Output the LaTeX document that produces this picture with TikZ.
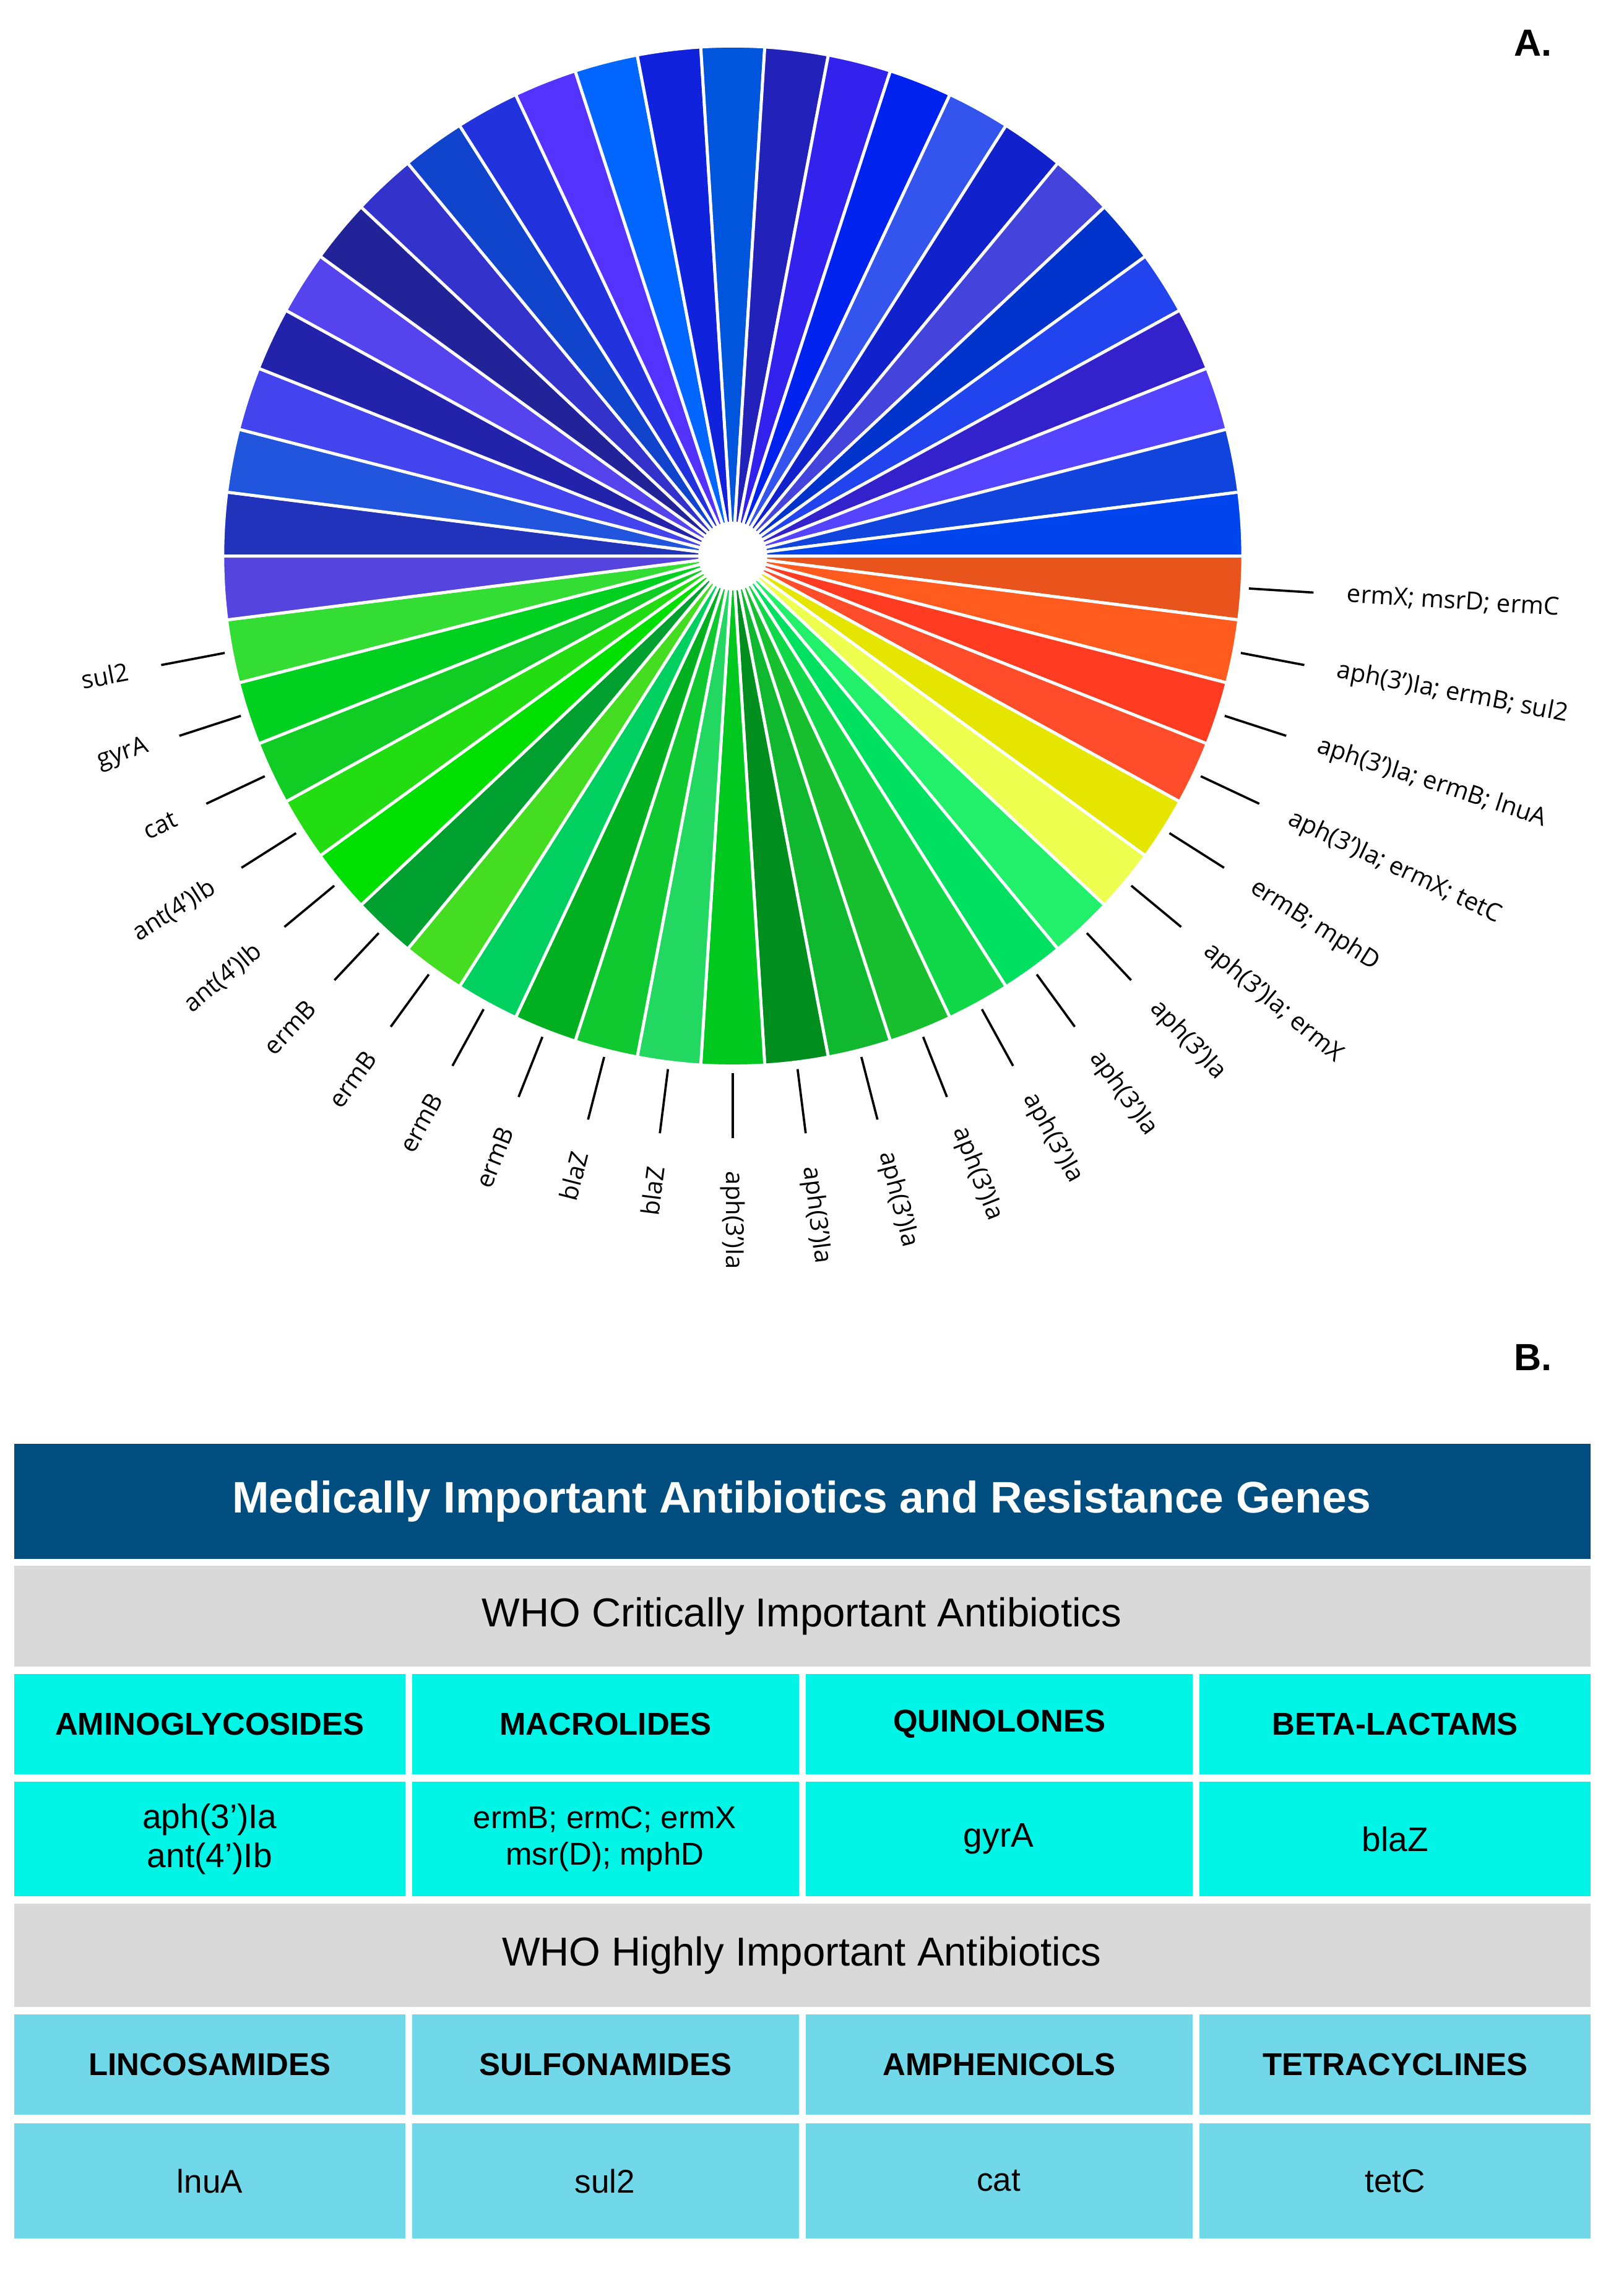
\documentclass[tikz,border=0pt]{standalone}
\usepackage{fontspec}
\usetikzlibrary{calc}
\setmainfont{Liberation Sans}
\newfontfamily\pief{Open Sans}
\begin{document}
\begin{tikzpicture}[x=0.02cm,y=-0.02cm]
\useasboundingbox (0,0) rectangle (1130,1580);
\def\cols{E8541C,FF5B1F,FF3B22,FF4C2A,E5E500,EEFF50,22F06A,00E060,10D848,18C030,10B830,008E1E,00C81E,22D860,10C830,00B020,00D060,44DD22,00A030,00E000,22DD11,11CC22,00D020,33DD33,5544DD,2233BB,2255DD,4444EE,2222AA,5544EE,222299,3333CC,1144CC,2233DD,5533FF,0066FF,1122DD,0055DD,2222BB,3322EE,0022EE,3355EE,1122CC,4444DD,0033CC,2244EE,3322CC,5544FF,1144DD,0044EE}
\coordinate (c) at (510,387);
\foreach \h [count=\i] in \cols {
  \definecolor{sc}{HTML}{\h}
  \pgfmathsetmacro\a{(\i-1)*7.2}
  \pgfmathsetmacro\b{\i*7.2}
  \fill[sc,draw=white,line width=1.2pt] (c) -- ++(\a:355) arc[start angle=\a,end angle=\b,radius=355] -- cycle;
}
\fill[white] (c) circle (24);
\foreach \i/\t in {1/{ermX; msrD; ermC},2/{aph(3’)Ia; ermB; sul2},3/{aph(3’)Ia; ermB; lnuA},4/{aph(3’)Ia; ermX; tetC},5/{ermB; mphD},6/{aph(3’)Ia; ermX},7/{aph(3’)Ia},8/{aph(3’)Ia},9/{aph(3’)Ia},10/{aph(3’)Ia},11/{aph(3’)Ia},12/{aph(3’)Ia},13/{aph(3’)Ia},14/{blaZ},15/{blaZ},16/{ermB},17/{ermB},18/{ermB},19/{ermB},20/{ant(4’)Ib},21/{ant(4’)Ib},22/{cat},23/{gyrA},24/{sul2}} {
  \pgfmathsetmacro\m{(\i-0.5)*7.2}
  \coordinate (ta\i) at ($(c)+(\m:360)$);
  \coordinate (tb\i) at ($(c)+(\m:405)$);
  \draw[line width=0.9pt] (ta\i) -- (tb\i);
  \ifnum\i<14
    \node[font=\pief\fontsize{9.8}{11}\selectfont,anchor=west,rotate=-\m,inner sep=0pt] (l\i) at ($(c)+(\m:428)$) {\t};
  \else
    \pgfmathsetmacro\r{180-\m}
    \node[font=\pief\fontsize{9.8}{11}\selectfont,anchor=east,rotate=\r,inner sep=0pt] (l\i) at ($(c)+(\m:428)$) {\t};
  \fi
}
\node[font=\bfseries\fontsize{15}{18}\selectfont] (A) at (1067,30) {A.};
\node[font=\bfseries\fontsize{15}{18}\selectfont] (B) at (1067,945) {B.};
% table
\definecolor{hd}{HTML}{004D80}
\definecolor{gr}{HTML}{D9D9D9}
\definecolor{cy}{HTML}{00F5E6}
\definecolor{lb}{HTML}{70D8E8}
\fill[hd] (10,1005) rectangle (1107,1085);
\node[white,font=\bfseries\fontsize{17.5}{20}\selectfont] (h) at (558,1045) {Medically Important Antibiotics and Resistance Genes};
\fill[gr] (10,1090) rectangle (1107,1160);
\node[font=\fontsize{16}{18}\selectfont] (g1) at (558,1125) {WHO Critically Important Antibiotics};
\fill[gr] (10,1325) rectangle (1107,1397);
\node[font=\fontsize{16}{18}\selectfont] (g2) at (558,1361) {WHO Highly Important Antibiotics};
\foreach \x/\y/\n [count=\k] in {10/282/AMINOGLYCOSIDES,287/556/MACROLIDES,561/830/QUINOLONES,835/1107/BETA-LACTAMS} {
  \fill[cy] (\x,1165) rectangle (\y,1235);
  \fill[cy] (\x,1240) rectangle (\y,1320);
  \node[font=\bfseries\fontsize{12.5}{14}\selectfont] (ca\k) at ({(\x+\y)/2},1200) {\n};
}
\foreach \x/\y/\n [count=\k] in {10/282/LINCOSAMIDES,287/556/SULFONAMIDES,561/830/AMPHENICOLS,835/1107/TETRACYCLINES} {
  \fill[lb] (\x,1402) rectangle (\y,1472);
  \fill[lb] (\x,1478) rectangle (\y,1558);
  \node[font=\bfseries\fontsize{12.5}{14}\selectfont] (cb\k) at ({(\x+\y)/2},1437) {\n};
}
\node[font=\fontsize{13.5}{15.5}\selectfont,align=center] (ga1) at (146,1280) {aph(3’)Ia\\ant(4’)Ib};
\node[font=\fontsize{12.5}{14.5}\selectfont,align=center] (ga2) at (421,1280) {ermB; ermC; ermX\\msr(D); mphD};
\node[font=\fontsize{13.5}{15}\selectfont] (ga3) at (695,1280) {gyrA};
\node[font=\fontsize{13.5}{15}\selectfont] (ga4) at (971,1280) {blaZ};
\node[font=\fontsize{13}{15}\selectfont] (gb1) at (146,1518) {lnuA};
\node[font=\fontsize{13}{15}\selectfont] (gb2) at (421,1518) {sul2};
\node[font=\fontsize{13}{15}\selectfont] (gb3) at (695,1518) {cat};
\node[font=\fontsize{13}{15}\selectfont] (gb4) at (971,1518) {tetC};
\end{tikzpicture}
\end{document}
